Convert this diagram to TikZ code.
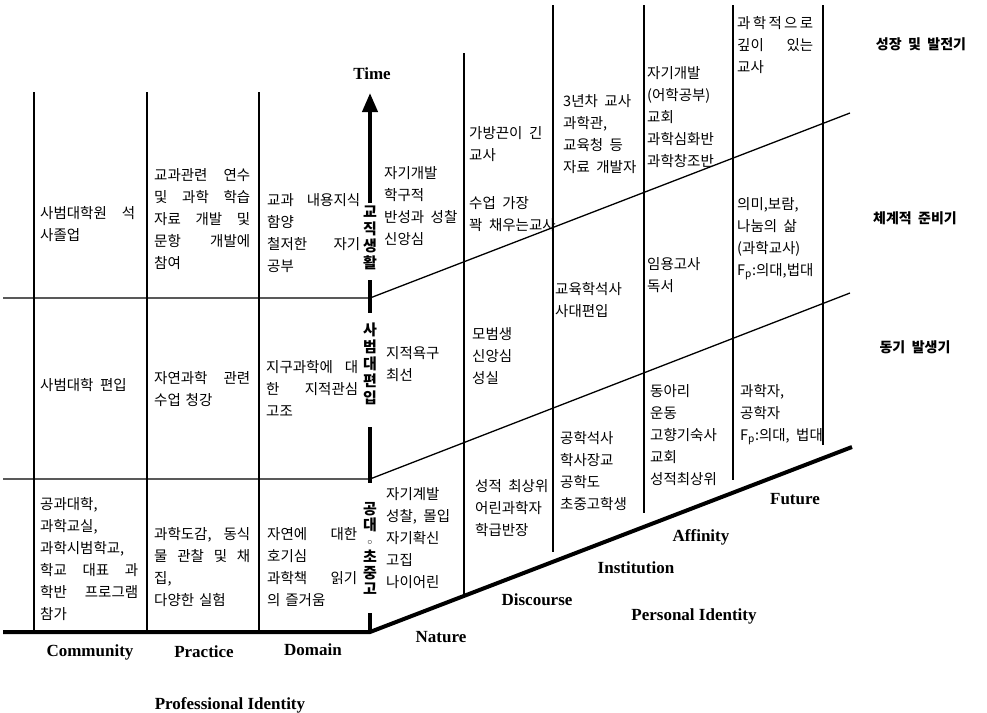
\documentclass[tikz,border=0pt]{standalone}
\usepackage{fontspec}
\setmainfont{Liberation Serif}
\newfontfamily\kr[WordSpace=2.0]{Noto Sans CJK KR}
\newfontfamily\djv{DejaVu Sans}
\usetikzlibrary{arrows.meta}
\tikzset{
  thinline/.style={line width=1.3pt},
  thickline/.style={line width=4pt},
  txt/.style={font=\kr\fontsize{14.5}{22}\selectfont, anchor=north west, inner sep=0pt, align=left},
  cell/.style={txt, text width=#1},
  lab/.style={font=\bfseries\fontsize{17}{19}\selectfont, inner sep=0pt},
  stage/.style={font=\kr\bfseries\fontsize{14}{16}\selectfont, inner sep=0pt},
  vtxt/.style={font=\kr\bfseries\fontsize{15}{17}\selectfont, inner sep=0pt, align=center},
}
\begin{document}
\begin{tikzpicture}[x=1pt,y=-1pt]
\useasboundingbox (0,0) rectangle (987,712);
% ---- key coordinates
\coordinate (O) at (370,632);
\coordinate (tip) at (370,93);
\coordinate (L0) at (3,632);
\coordinate (E) at (852,447);
\coordinate (h1a) at (3,298);  \coordinate (h1b) at (370,298);
\coordinate (h2a) at (3,479);  \coordinate (h2b) at (370,479);
\coordinate (d1e) at (850,113);
\coordinate (d2e) at (850,293);
% left verticals
\foreach \x/\n in {34/a,147/b,259/c}{
  \coordinate (lv\n t) at (\x,92); \coordinate (lv\n b) at (\x,632);
  \draw[thinline] (lv\n t) -- (lv\n b);
}
% right verticals
\foreach \x/\yt/\yb/\n in {464/53/596/a,553/5/552/b,644/5/513/c,733/5/480/d,823/5/445/e}{
  \coordinate (rv\n t) at (\x,\yt); \coordinate (rv\n b) at (\x,\yb);
  \draw[thinline] (rv\n t) -- (rv\n b);
}
% horizontals and diagonals
\draw[thinline] (h1a) -- (h1b) -- (d1e);
\draw[thinline] (h2a) -- (h2b) -- (d2e);
\draw[thickline, line join=miter] (L0) -- (O) -- (E);
% time axis segments
\coordinate (s1) at (370,203);
\coordinate (s2) at (370,280); \coordinate (s3) at (370,313);
\coordinate (s4) at (370,427); \coordinate (s5) at (370,483);
\coordinate (s6) at (370,613);
\draw[thickline, -{Triangle[width=15pt,length=19pt]}] (s1) -- (tip);
\draw[thickline] (s2) -- (s3);
\draw[thickline] (s4) -- (s5);
\draw[thickline] (s6) -- (O);
% vertical texts
\node[vtxt] (v1) at (370,238) {교\\직\\생\\활};
\node[vtxt] (v2) at (370,364) {사\\범\\대\\편\\입};
\node[vtxt, font=\kr\bfseries\fontsize{15}{16}\selectfont] (v3) at (370,548) {공\\대\\{\djv\fontsize{11}{16}\selectfont ◦}\\초\\중\\고};
\node[lab] (time) at (372,74) {Time};
% ---- left panel cells
\node[cell=95pt] (c11) at (40,206) {사범대학원\hfill 석\\사졸업};
\node[cell=96pt] (c21) at (154,168) {교과관련\hfill 연수\\및\hfill 과학\hfill 학습\\자료\hfill 개발\hfill 및\\문항\hfill 개발에\\참여};
\node[cell=93pt] (c31) at (267,193) {교과\hfill 내용지식\\함양\\철저한\hfill 자기\\공부};
\node[txt] (c12) at (40,378) {사범대학 편입};
\node[cell=96pt] (c22) at (154,371) {자연과학\hfill 관련\\수업 청강};
\node[cell=92pt] (c32) at (266,360) {지구과학에\hfill 대\\한\hfill 지적관심\\고조};
\node[cell=98pt] (c13) at (40,497) {공과대학,\\과학교실,\\과학시범학교,\\학교\hfill 대표\hfill 과\\학반\hfill 프로그램\\참가};
\node[cell=96pt] (c23) at (154,527) {과학도감,\hfill 동식\\물\hfill 관찰\hfill 및\hfill 채\\집,\\다양한 실험};
\node[cell=90pt] (c33) at (267,527) {자연에\hfill 대한\\호기심\\과학책\hfill 읽기\\의 즐거움};
% ---- right panel cells
\node[txt] (a1) at (384,166) {자기개발\\학구적\\반성과 성찰\\신앙심};
\node[txt] (a2) at (386,346) {지적욕구\\최선};
\node[txt] (a3) at (386,487) {자기계발\\성찰, 몰입\\자기확신\\고집\\나이어린};
\node[txt] (b1) at (469,126) {가방끈이 긴\\교사};
\node[txt] (b2) at (469,196) {수업 가장\\꽉 채우는교사};
\node[txt] (b3) at (472,327) {모범생\\신앙심\\성실};
\node[txt] (b4) at (475,479) {성적 최상위\\어린과학자\\학급반장};
\node[txt] (cc1) at (563,94) {3년차 교사\\과학관,\\교육청 등\\자료 개발자};
\node[txt] (cc2) at (555,282) {교육학석사\\사대편입};
\node[txt] (cc3) at (560,431) {공학석사\\학사장교\\공학도\\초중고학생};
\node[txt] (d1) at (647,66) {자기개발\\(어학공부)\\교회\\과학심화반\\과학창조반};
\node[txt] (d2) at (647,257) {임용고사\\독서};
\node[txt] (d3) at (650,384) {동아리\\운동\\고향기숙사\\교회\\성적최상위};
\node[cell=76pt] (e1) at (737,16) {과\hfill 학\hfill 적\hfill 으\hfill 로\\깊이\hfill 있는\\교사};
\node[txt] (e2) at (737,197) {의미,보람,\\나눔의 삶\\(과학교사)\\F\textsubscript{p}:의대,법대};
\node[txt] (e3) at (740,384) {과학자,\\공학자\\F\textsubscript{p}:의대, 법대};
% ---- stage labels
\node[stage] (st1) at (921,44) {성장 및 발전기};
\node[stage] (st2) at (915,218) {체계적 준비기};
\node[stage] (st3) at (915,347) {동기 발생기};
% ---- axis labels
\node[lab] (comm) at (90,652) {Community};
\node[lab] (prac) at (204,652) {Practice};
\node[lab] (dom) at (313,650) {Domain};
\node[lab] (prof) at (230,705) {Professional Identity};
\node[lab] (nat) at (441,637) {Nature};
\node[lab] (disc) at (537,600) {Discourse};
\node[lab] (inst) at (636,568) {Institution};
\node[lab] (aff) at (701,537) {Affinity};
\node[lab] (fut) at (795,499) {Future};
\node[lab] (pers) at (694,616) {Personal Identity};
\end{tikzpicture}
\end{document}
